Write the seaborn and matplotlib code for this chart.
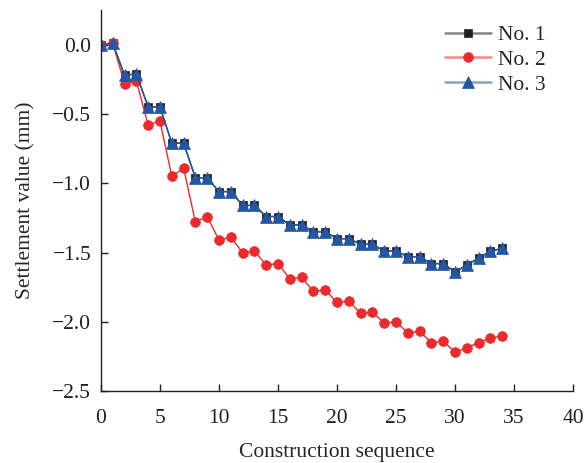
import matplotlib

matplotlib.use("Agg")

import matplotlib.pyplot as plt
import pandas as pd
import seaborn as sns

sequence = list(range(35))

settlement_no1 = [
    0.00, 0.01, -0.22, -0.21, -0.45, -0.45, -0.71, -0.71, -0.96, -0.96,
    -1.06, -1.06, -1.16, -1.16, -1.24, -1.24, -1.30, -1.30, -1.35, -1.35,
    -1.40, -1.40, -1.44, -1.44, -1.49, -1.49, -1.53, -1.53, -1.58, -1.58,
    -1.64, -1.59, -1.54, -1.49, -1.47,
]
settlement_no2 = [
    0.00, 0.01, -0.28, -0.26, -0.58, -0.55, -0.95, -0.89, -1.28, -1.24,
    -1.41, -1.39, -1.50, -1.49, -1.59, -1.58, -1.69, -1.68, -1.78, -1.77,
    -1.86, -1.85, -1.94, -1.93, -2.01, -2.00, -2.08, -2.07, -2.15, -2.14,
    -2.22, -2.19, -2.15, -2.12, -2.10,
]
settlement_no3 = [
    0.00, 0.01, -0.22, -0.21, -0.45, -0.45, -0.71, -0.71, -0.96, -0.96,
    -1.06, -1.06, -1.16, -1.16, -1.24, -1.24, -1.30, -1.30, -1.35, -1.35,
    -1.40, -1.40, -1.44, -1.44, -1.49, -1.49, -1.53, -1.53, -1.58, -1.58,
    -1.64, -1.59, -1.54, -1.49, -1.47,
]
series_names = ["No. 1", "No. 2", "No. 3"]
y_ticks = [0.0, -0.5, -1.0, -1.5, -2.0, -2.5]

df = pd.concat(
    [
        pd.DataFrame({"sequence": sequence, "settlement": vals, "point": name})
        for name, vals in zip(series_names, [settlement_no1, settlement_no2, settlement_no3])
    ],
    ignore_index=True,
)

sns.set_theme(style="ticks")
plt.rcParams["font.family"] = ["Liberation Serif", "DejaVu Serif"]

palette = {"No. 1": "#231f20", "No. 2": "#ec2a2c", "No. 3": "#2356a5"}
markers = {"No. 1": "s", "No. 2": "o", "No. 3": "^"}
marker_sizes = {"No. 1": 6, "No. 2": 7, "No. 3": 8}
FS = 15.5

fig = plt.figure(figsize=(5.85, 4.63), dpi=100)
ax = fig.add_axes([0.1726, 0.1555, 0.807, 0.8225])

sns.lineplot(
    data=df,
    x="sequence",
    y="settlement",
    hue="point",
    style="point",
    palette=palette,
    markers=markers,
    dashes=False,
    linewidth=1.0,
    markeredgewidth=0.5,
    ax=ax,
)
for line, name in zip(ax.lines, series_names):
    line.set_markeredgecolor(line.get_color())
    line.set_markersize(marker_sizes[name])

ax.set_xlim(0, 40)
ax.set_ylim(-2.5, 0.25)
ax.set_xticks(range(0, 41, 5))
ax.set_yticks(y_ticks)
ax.set_yticklabels([f"{v:.1f}".replace("-", "\u2212") for v in y_ticks])
ax.tick_params(direction="in", labelsize=FS, length=5, width=1, colors="#231f20", pad=7)
ax.tick_params(axis="x", pad=13)
ax.set_xlabel("Construction sequence", fontsize=FS, labelpad=11)
ax.set_ylabel("Settlement value (mm)", fontsize=FS, labelpad=12)
for side in ["top", "right"]:
    ax.spines[side].set_visible(False)
for side in ["left", "bottom"]:
    ax.spines[side].set_linewidth(1.0)
    ax.spines[side].set_color("#231f20")

leg = ax.legend(
    title=None,
    frameon=False,
    fontsize=FS,
    loc="upper right",
    bbox_to_anchor=(0.983, 1.012),
    handlelength=2.1,
    handletextpad=0.35,
    labelspacing=0.22,
)
for handle, name in zip(leg.legend_handles, series_names):
    handle.set_alpha(None)
    handle.set_markersize(marker_sizes[name])
    handle.set_linewidth(1.8)
    handle.set_color(matplotlib.colors.to_rgba(palette[name], 0.55))
    handle.set_markerfacecolor(palette[name])
    handle.set_markeredgecolor(palette[name])

fig.savefig("out.png", dpi=100)
plt.close(fig)
